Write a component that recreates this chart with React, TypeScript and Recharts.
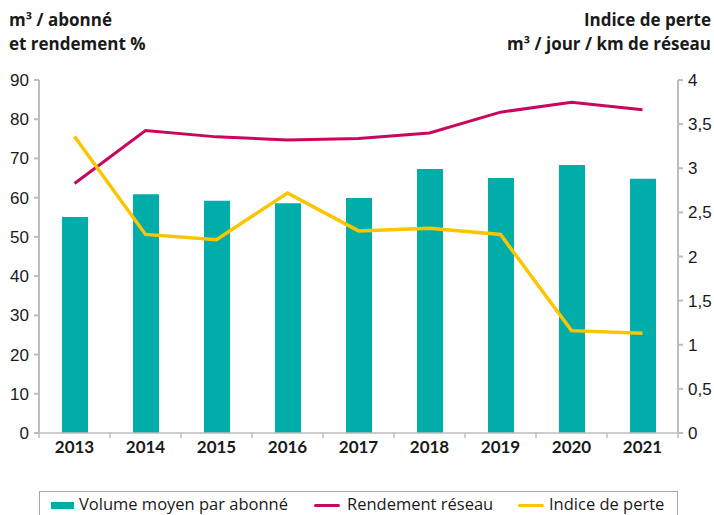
import { ComposedChart, Bar, Line, XAxis, YAxis } from "recharts";

const years = ["2013", "2014", "2015", "2016", "2017", "2018", "2019", "2020", "2021"];
const volumeMoyen = [55.1, 60.9, 59.2, 58.6, 59.9, 67.3, 65.0, 68.3, 64.8];
const rendement = [63.6, 77.1, 75.5, 74.7, 75.1, 76.5, 81.8, 84.3, 82.4];
const indicePerte = [3.36, 2.25, 2.19, 2.72, 2.29, 2.32, 2.25, 1.16, 1.13];

const leftTicks = [0, 10, 20, 30, 40, 50, 60, 70, 80, 90];
const rightTicks = [0, 0.5, 1, 1.5, 2, 2.5, 3, 3.5, 4];

const data = years.map((year, i) => ({
  year,
  volume: volumeMoyen[i],
  rendement: rendement[i],
  indice: indicePerte[i],
}));

const TEAL = "#00ADA9";
const MAGENTA = "#C8075F";
const YELLOW = "#FDC400";
const AXIS = "#BDBDBD";
const FONT = "Lato, 'Liberation Sans', sans-serif";
const WIDE = "'Open Sans', Lato, sans-serif";

const W = 714;
const H = 515;
const LEFT = 39;
const RIGHT = 678;
const BAND = (RIGHT - LEFT) / years.length;

function YearTick(props: any) {
  const { x, y, payload, index } = props;
  const axisY = y - 8;
  return (
    <g>
      <line x1={x - BAND / 2} x2={x - BAND / 2} y1={axisY} y2={axisY + 5} stroke={AXIS} strokeWidth={1.5} />
      {index === years.length - 1 && (
        <line x1={x + BAND / 2} x2={x + BAND / 2} y1={axisY} y2={axisY + 5} stroke={AXIS} strokeWidth={1.5} />
      )}
      <text x={x} y={axisY + 20} textAnchor="middle" fontFamily={FONT} fontWeight={700} fontSize={17} fill="#1a1a1a">
        {payload.value}
      </text>
    </g>
  );
}

const titleStyle: React.CSSProperties = {
  position: "absolute",
  fontFamily: WIDE,
  fontWeight: 700,
  fontSize: 17,
  lineHeight: "24px",
  color: "#1a1a1a",
  whiteSpace: "nowrap",
};

const legendText: React.CSSProperties = {
  position: "absolute",
  top: 2,
  fontFamily: WIDE,
  fontSize: 16.5,
  lineHeight: "20px",
  color: "#1a1a1a",
  whiteSpace: "nowrap",
};

export default function App() {
  return (
    <div style={{ position: "absolute", left: 0, top: 0, width: W, height: H, background: "#fff", overflow: "hidden" }}>
      <div style={{ ...titleStyle, left: 9, top: 8 }}>
        m³ / abonné
        <br />
        et rendement %
      </div>
      <div style={{ ...titleStyle, right: 3, top: 8, textAlign: "right" }}>
        Indice de perte
        <br />
        m³ / jour / km de réseau
      </div>
      <div style={{ position: "absolute", left: 0, top: 0 }}>
        <ComposedChart width={W} height={H} data={data} margin={{ top: 80, right: 0, bottom: 52, left: 0 }}>
          <XAxis
            dataKey="year"
            height={30}
            stroke={AXIS}
            strokeWidth={1.5}
            tickLine={false}
            tick={<YearTick />}
            interval={0}
          />
          <YAxis
            yAxisId="left"
            width={LEFT}
            domain={[0, 90]}
            ticks={leftTicks}
            interval={0}
            stroke={AXIS}
            strokeWidth={2}
            tickSize={5}
            tickMargin={5}
            tick={{ fill: "#1a1a1a", fontSize: 17, fontFamily: "'Liberation Sans', sans-serif" }}
          />
          <YAxis
            yAxisId="right"
            orientation="right"
            width={W - RIGHT}
            domain={[0, 4]}
            ticks={rightTicks}
            interval={0}
            stroke={AXIS}
            strokeWidth={2}
            tickSize={5}
            tickMargin={5}
            tickFormatter={(v: number) => String(v).replace(".", ",")}
            tick={{ fill: "#1a1a1a", fontSize: 17, fontFamily: "'Liberation Sans', sans-serif" }}
          />
          <Bar yAxisId="left" dataKey="volume" fill={TEAL} barSize={26} isAnimationActive={false} />
          <Line
            yAxisId="left"
            type="linear"
            dataKey="rendement"
            stroke={MAGENTA}
            strokeWidth={3}
            dot={false}
            isAnimationActive={false}
          />
          <Line
            yAxisId="right"
            type="linear"
            dataKey="indice"
            stroke={YELLOW}
            strokeWidth={3.5}
            dot={false}
            isAnimationActive={false}
          />
        </ComposedChart>
      </div>
      <div
        style={{
          position: "absolute",
          left: LEFT,
          top: 491,
          width: RIGHT - LEFT,
          height: 40,
          border: "1.5px solid #A8A8A8",
          boxSizing: "border-box",
        }}
      >
        <div style={{ position: "absolute", left: 11, top: 10, width: 23, height: 7, background: TEAL }} />
        <div style={{ ...legendText, left: 39 }}>Volume moyen par abonné</div>
        <div style={{ position: "absolute", left: 274, top: 12, width: 26, height: 3, background: MAGENTA, borderRadius: 2 }} />
        <div style={{ ...legendText, left: 307 }}>Rendement réseau</div>
        <div style={{ position: "absolute", left: 478, top: 12, width: 26, height: 3, background: YELLOW, borderRadius: 2 }} />
        <div style={{ ...legendText, left: 509 }}>Indice de perte</div>
      </div>
    </div>
  );
}
